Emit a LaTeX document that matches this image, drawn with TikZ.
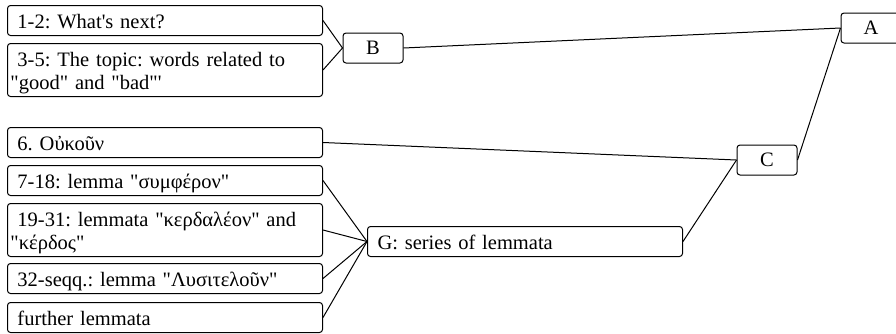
\documentclass[tikz,border=0pt]{standalone}
\usepackage{fontspec}
\setmainfont{Liberation Serif}[Ligatures=TeXOff]

\begin{document}
\begin{tikzpicture}[
	  x=0.5pt, y=-0.5pt,
	  line width=0.5pt,
	  every node/.style={font=\fontsize{10.25}{11.5}\selectfont\frenchspacing},
	  leaf/.style={
	  	rectangle,
	  	draw,
	  	fill=white,
	  	rounded corners=1.5pt,
	  	anchor=north west,
	  	text width=154.5pt,
	  	align=left,
	  	inner xsep=1.5pt,
	  	inner ysep=1pt,
	  	execute at begin node={\noindent\rule{0pt}{10.5pt}\hspace*{3.5pt}},
	  	execute at end node={\rule[-2.5pt]{0pt}{2.5pt}}
	  },
	  branch/.style={
	  	rectangle,
	  	draw,
	  	fill=white,
	  	rounded corners=1.5pt,
	  	minimum width=30pt,
	  	minimum height=15pt,
	  	inner sep=0pt
	  },
	  link/.style={draw, line width=0.5pt}]
	\useasboundingbox (0,0) rectangle (896,333);
	% Root and branches
	\node[branch] (A) at (871,28) {A};
	\node[branch] (B) at (373,48) {B};
	\node[branch] (C) at (767,160) {C};
	\node[leaf] (G) at (367,226) {G: series of lemmata};
	% Leaves
	\node[leaf] (next) at (7,5) {1-2: What's next?};
	\node[leaf] (topic) at (7,43) {3-5: The topic: words related to\\"good" and "bad"'};
	\node[leaf] (oukoun) at (7,127) {6. Οὐκοῦν};
	\node[leaf] (sympheron) at (7,165) {7-18: lemma "συμφέρον"};
	\node[leaf] (kerdos) at (7,203) {19-31: lemmata "κερδαλέον" and\\"κέρδος"};
	\node[leaf] (lysitelun) at (7,263) {32-seqq.: lemma "Λυσιτελοῦν"};
	\node[leaf] (further) at (7,302) {further lemmata};
	% Edges
	\path[link] (next.east) -- (B.west);
	\path[link] (topic.east) -- (B.west);
	\path[link] (B.east) -- (A.west);
	\path[link] (C.east) -- (A.west);
	\path[link] (oukoun.east) -- (C.west);
	\path[link] (G.east) -- (C.west);
	\foreach \leafname in {sympheron, kerdos, lysitelun, further}
		\path[link] (\leafname.east) -- (G.west);
\end{tikzpicture}
\end{document}
